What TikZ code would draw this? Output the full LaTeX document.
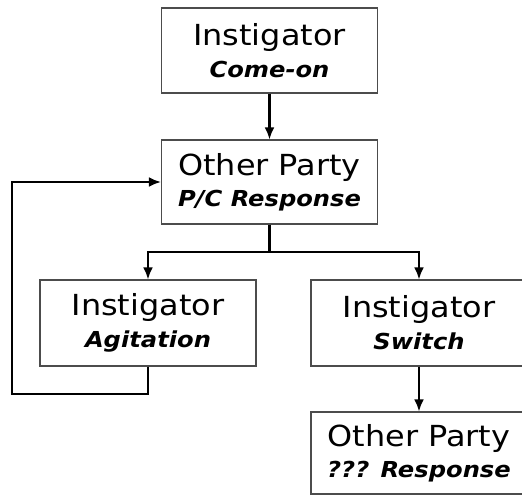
\documentclass[tikz,border=0pt]{standalone}
\usepackage{fontspec}
\setmainfont{DejaVu Sans}[FakeStretch=1.1]
\usepackage{tikz}
\usetikzlibrary{arrows.meta}

\newcommand{\steptext}[2]{{\fontsize{29}{31}\selectfont #1}\\[8pt]{\fontsize{22}{31}\selectfont\bfseries\itshape #2}}

\begin{document}
\begin{tikzpicture}[x=1pt,y=-1pt,
    stage/.style={draw=black!70,line width=1.2pt,minimum width=216pt,inner sep=0pt,align=center},
    conn/.style={line width=2.2pt,-{Latex[length=12pt,width=10pt]}}]
  \useasboundingbox (0,0) rectangle (522,498);
  \node[stage,minimum height=85pt] (comeon) at (269.5,50.5) {\steptext{Instigator}{Come-on}};
  \node[stage,minimum height=84pt] (pcresp) at (269.5,182) {\steptext{Other Party}{P/C Response}};
  \node[stage,minimum height=86pt] (agit) at (148,323) {\steptext{Instigator}{Agitation}};
  \node[stage,minimum height=86pt] (switch) at (419,323) {\steptext{Instigator}{Switch}};
  \node[stage,minimum height=82pt] (unknown) at (419,453) {\steptext{Other Party}{??? Response}};
  \coordinate (fork) at (269.5,252);
  \coordinate (loop) at (12,394);
  \draw[conn] (comeon) -- (pcresp);
  \draw[line width=2.2pt] (pcresp.south) -- (fork);
  \foreach \n in {agit,switch}
    \draw[conn] (fork) -| (\n.north);
  \draw[conn] (agit.south) |- (loop) |- (pcresp.west);
  \draw[conn] (switch) -- (unknown);
\end{tikzpicture}
\end{document}
